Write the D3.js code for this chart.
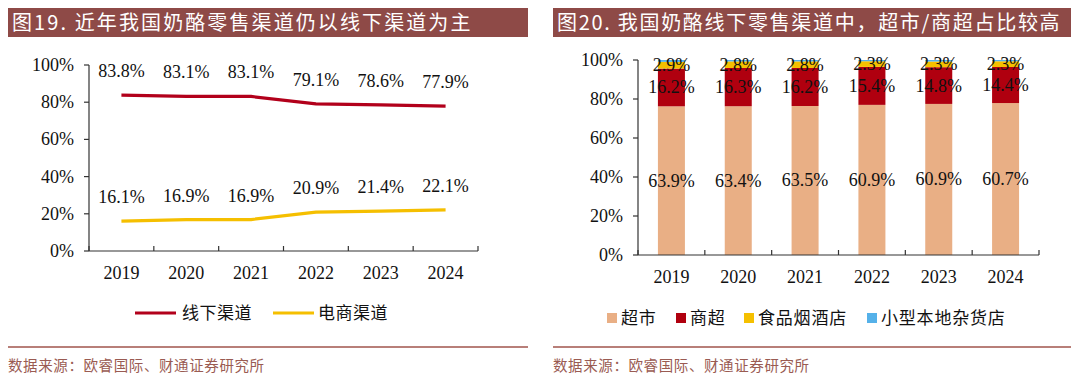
<!DOCTYPE html>
<html><head><meta charset="utf-8">
<script src="https://cdn.jsdelivr.net/npm/d3@7"></script>
<style>
body{margin:0;background:#fff;}
svg{display:block;}
.num{font-family:"Liberation Serif","Times New Roman",serif;}
.cjk{font-family:"Noto Sans CJK SC",sans-serif;}
</style></head>
<body>
<svg id="c" width="1080" height="383"></svg>
<script>
// ---- data ----
const years = ["2019","2020","2021","2022","2023","2024"];
const offline = [83.8, 83.1, 83.1, 79.1, 78.6, 77.9];
const online = [16.1, 16.9, 16.9, 20.9, 21.4, 22.1];
const supermarket = [63.9, 63.4, 63.5, 60.9, 60.9, 60.7];
const hypermarket = [16.2, 16.3, 16.2, 15.4, 14.8, 14.4];
const foodStore = [2.9, 2.8, 2.8, 2.3, 2.3, 2.3];
const grocery = [0.8, 0.6, 0.6, 0.5, 0.6, 0.5];
const yTicks = [0, 20, 40, 60, 80, 100];
const leftTitle = "图19. 近年我国奶酪零售渠道仍以线下渠道为主";
const rightTitle = "图20. 我国奶酪线下零售渠道中，超市/商超占比较高";
const lineNames = ["线下渠道", "电商渠道"];
const barNames = ["超市", "商超", "食品烟酒店", "小型本地杂货店"];
const source = "数据来源：欧睿国际、财通证券研究所";

const svg = d3.select("#c");
const TITLE_BG = "#8E4A47";
const SRC = "#9A5B52";
const C_RED = "#B2001B", C_YEL = "#F5BF00";
const barColors = ["#E9AF85", "#B0000F", "#F5C000", "#55B1E9"];

// title bars & footers
function frame(x0, x1, title, ls) {
  svg.append("rect").attr("x", x0).attr("y", 8).attr("width", x1 - x0).attr("height", 29).attr("fill", TITLE_BG);
  svg.append("text").attr("class", "cjk").attr("x", x0 + 4).attr("y", 30).attr("fill", "#fff")
    .attr("font-size", 20).attr("letter-spacing", ls).text(title);
  svg.append("line").attr("x1", x0).attr("x2", x1).attr("y1", 347).attr("y2", 347)
    .attr("stroke", "#A0554D").attr("stroke-width", 1.5);
  svg.append("text").attr("class", "cjk").attr("x", x0).attr("y", 371).attr("fill", SRC)
    .attr("font-size", 14.5).attr("letter-spacing", 0.6).text(source);
}
frame(8, 528, leftTitle, 2.1);
frame(553, 1071, rightTitle, 1.7);

function axes(g, x, y, x0, x1, yb, yt) {
  // y axis
  g.append("line").attr("x1", x0).attr("x2", x0).attr("y1", yt).attr("y2", yb).attr("stroke", "#333").attr("stroke-width", 1.2);
  yTicks.forEach(t => {
    g.append("line").attr("x1", x0 - 5).attr("x2", x0).attr("y1", y(t)).attr("y2", y(t)).attr("stroke", "#333").attr("stroke-width", 1.2);
    g.append("text").attr("class", "num").attr("x", x0 - 15).attr("y", y(t) + 6).attr("text-anchor", "end")
      .attr("font-size", 18).attr("fill", "#111").text(t + "%");
  });
  // x axis
  g.append("line").attr("x1", x0).attr("x2", x1).attr("y1", yb).attr("y2", yb).attr("stroke", "#333").attr("stroke-width", 1.2);
  const bounds = years.map(d => x(d)).concat([x1]);
  bounds.forEach(b => g.append("line").attr("x1", b).attr("x2", b).attr("y1", yb).attr("y2", yb - 5).attr("stroke", "#333").attr("stroke-width", 1.2));
  years.forEach(d => g.append("text").attr("class", "num").attr("x", x(d) + x.bandwidth() / 2).attr("y", yb + 28)
    .attr("text-anchor", "middle").attr("font-size", 18).attr("fill", "#111").text(d));
}

// ---- left line chart ----
{
  const g = svg.append("g");
  const x = d3.scaleBand().domain(years).range([89, 478]);
  const y = d3.scaleLinear().domain([0, 100]).range([251, 65]);
  axes(g, x, y, 89, 478, 251, 65);
  const cx = d => x(d) + x.bandwidth() / 2;
  [[offline, C_RED], [online, C_YEL]].forEach(([vals, col]) => {
    const line = d3.line().x((v, i) => cx(years[i])).y(v => y(v));
    g.append("path").attr("d", line(vals)).attr("fill", "none").attr("stroke", col).attr("stroke-width", 3.2);
    vals.forEach((v, i) => g.append("text").attr("class", "num").attr("x", cx(years[i])).attr("y", y(v) - 18)
      .attr("text-anchor", "middle").attr("font-size", 18).attr("fill", "#111").text(v.toFixed(1) + "%"));
  });
  // legend
  const leg = [[135, 182, C_RED, lineNames[0]], [273, 318, C_YEL, lineNames[1]]];
  leg.forEach(([lx, tx, col, name]) => {
    g.append("line").attr("x1", lx).attr("x2", lx + 41).attr("y1", 313).attr("y2", 313).attr("stroke", col).attr("stroke-width", 3.2);
    g.append("text").attr("class", "cjk").attr("x", tx).attr("y", 319).attr("font-size", 17).attr("letter-spacing", 0.5).attr("fill", "#111").text(name);
  });
}

// ---- right stacked bar chart ----
{
  const g = svg.append("g");
  const x = d3.scaleBand().domain(years).range([638, 1039]);
  const y = d3.scaleLinear().domain([0, 100]).range([255, 60]);
  const series = [supermarket, hypermarket, foodStore, grocery];
  const rows = years.map((yr, i) => {
    const tot = series.reduce((s, arr) => s + arr[i], 0);
    const r = { year: yr };
    series.forEach((arr, k) => r["s" + k] = arr[i] / tot * 100);
    return r;
  });
  const stack = d3.stack().keys(["s0", "s1", "s2", "s3"])(rows);
  const bw = 27;
  stack.forEach((layer, k) => {
    g.selectAll(null).data(layer).enter().append("rect")
      .attr("x", d => x(d.data.year) + x.bandwidth() / 2 - bw / 2)
      .attr("width", bw)
      .attr("y", d => y(d[1]))
      .attr("height", d => y(d[0]) - y(d[1]))
      .attr("fill", barColors[k]);
  });
  axes(g, x, y, 638, 1039, 255, 60);
  stack.slice(0, 3).forEach((layer, k) => {
    layer.forEach((d, i) => g.append("text").attr("class", "num")
      .attr("x", x(d.data.year) + x.bandwidth() / 2).attr("y", y((d[0] + d[1]) / 2) + 6)
      .attr("text-anchor", "middle").attr("font-size", 18).attr("fill", "#111")
      .text(series[k][i].toFixed(1) + "%"));
  });
  // legend
  const lx = [607, 676, 744, 867];
  barNames.forEach((n, k) => {
    g.append("rect").attr("x", lx[k]).attr("y", 313).attr("width", 10).attr("height", 10).attr("fill", barColors[k]);
    g.append("text").attr("class", "cjk").attr("x", lx[k] + 14).attr("y", 324).attr("font-size", 17).attr("letter-spacing", 0.8).attr("fill", "#111").text(n);
  });
}
</script>
</body></html>
